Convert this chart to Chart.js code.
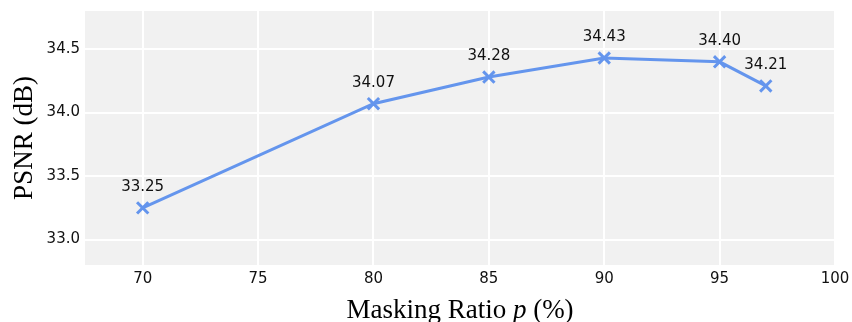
<!DOCTYPE html>
<html>
<head>
<meta charset="utf-8">
<script src="https://cdn.jsdelivr.net/npm/chart.js@4/dist/chart.umd.min.js"></script>
<style>
  html, body { margin: 0; padding: 0; background: #ffffff; }
  #wrap { width: 852px; height: 322px; }
</style>
</head>
<body>
<div id="wrap"><canvas id="c" width="852" height="322"></canvas></div>
<script>
// Masking ratio (%) vs. PSNR (dB)
const maskingRatio = [70, 80, 85, 90, 95, 97];
const psnr = [33.25, 34.07, 34.28, 34.43, 34.40, 34.21];
const xTicks = [70, 75, 80, 85, 90, 95, 100];
const yTicks = [33.0, 33.5, 34.0, 34.5];

const lineColor = '#6495ED';
const tickFont = { family: 'DejaVu Sans', size: 15 };

// Gray panel behind the plot area
const panelBg = {
  id: 'panelBg',
  beforeDraw(chart) {
    const { ctx, chartArea: a } = chart;
    ctx.save();
    ctx.fillStyle = '#f1f1f1';
    ctx.fillRect(a.left, a.top, a.right - a.left, a.bottom - a.top);
    ctx.restore();
  }
};

// Value labels above each point
const valueLabels = {
  id: 'valueLabels',
  afterDatasetsDraw(chart) {
    const { ctx } = chart;
    const meta = chart.getDatasetMeta(0);
    ctx.save();
    ctx.font = '15px "DejaVu Sans"';
    ctx.fillStyle = '#111';
    ctx.textAlign = 'center';
    ctx.textBaseline = 'middle';
    meta.data.forEach((pt, i) => {
      ctx.fillText(psnr[i].toFixed(2), pt.x, pt.y - 21);
    });
    ctx.restore();
  }
};

// Axis titles in a serif face, with the italic symbol p
const axisTitles = {
  id: 'axisTitles',
  afterDraw(chart) {
    const { ctx, chartArea: a } = chart;
    ctx.save();
    ctx.fillStyle = '#000';
    ctx.textBaseline = 'alphabetic';
    const reg = '27px "Liberation Serif"';
    const ita = 'italic 27px "Liberation Serif"';
    const parts = [['Masking Ratio ', reg], ['p', ita], [' (%)', reg]];
    let total = 0;
    parts.forEach(([t, f]) => { ctx.font = f; total += ctx.measureText(t).width; });
    let x = (a.left + a.right) / 2 - total / 2;
    ctx.textAlign = 'left';
    parts.forEach(([t, f]) => {
      ctx.font = f;
      ctx.fillText(t, x, 318);
      x += ctx.measureText(t).width;
    });

    ctx.translate(32, (a.top + a.bottom) / 2);
    ctx.rotate(-Math.PI / 2);
    ctx.font = reg;
    ctx.textAlign = 'center';
    ctx.fillText('PSNR (dB)', 0, 0);
    ctx.restore();
  }
};

// Fixed axis sizes; no extra overhang padding from tick labels
function fixScale(s, size) {
  if (s.isHorizontal()) s.height = size; else s.width = size;
  s.paddingTop = 0; s.paddingBottom = 0; s.paddingLeft = 0; s.paddingRight = 0;
}

new Chart(document.getElementById('c'), {
  type: 'line',
  data: {
    datasets: [{
      data: maskingRatio.map((x, i) => ({ x, y: psnr[i] })),
      borderColor: lineColor,
      backgroundColor: lineColor,
      borderWidth: 3,
      pointStyle: 'crossRot',
      pointRadius: 8,
      pointBorderWidth: 3,
      pointHoverRadius: 8,
      tension: 0,
      fill: false
    }]
  },
  options: {
    responsive: false,
    devicePixelRatio: 1,
    animation: false,
    layout: { padding: { top: 5, right: 17, left: 0, bottom: 0 } },
    plugins: {
      legend: { display: false },
      tooltip: { enabled: false }
    },
    scales: {
      x: {
        type: 'linear',
        min: 67.5,
        max: 100,
        afterBuildTicks: s => { s.ticks = xTicks.map(v => ({ value: v })); },
        afterFit: s => fixScale(s, 57),
        ticks: {
          font: tickFont,
          color: '#111',
          padding: 5,
          maxRotation: 0,
          callback: v => String(v)
        },
        grid: { color: '#ffffff', lineWidth: 2, drawTicks: false },
        border: { display: false }
      },
      y: {
        type: 'linear',
        min: 32.8,
        max: 34.8,
        afterBuildTicks: s => { s.ticks = yTicks.map(v => ({ value: v })); },
        afterFit: s => fixScale(s, 85),
        ticks: {
          font: tickFont,
          color: '#111',
          padding: 5,
          callback: v => Number(v).toFixed(1)
        },
        grid: { color: '#ffffff', lineWidth: 2, drawTicks: false },
        border: { display: false }
      }
    }
  },
  plugins: [panelBg, valueLabels, axisTitles]
});
</script>
</body>
</html>
